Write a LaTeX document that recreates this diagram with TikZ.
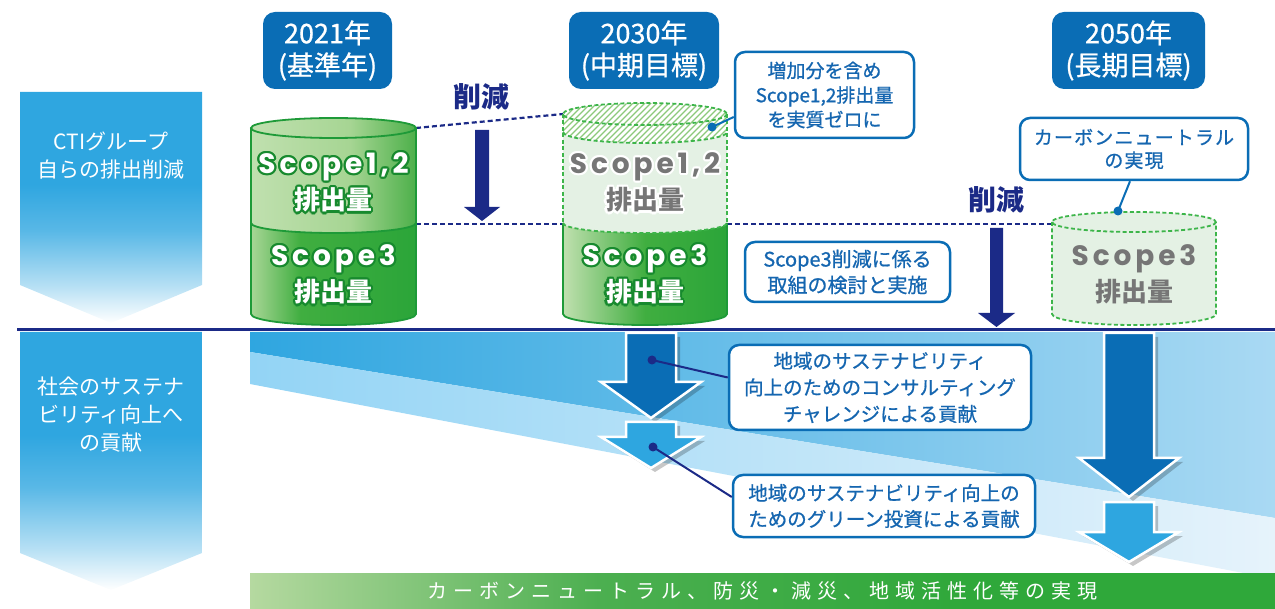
\documentclass[tikz,border=0pt]{standalone}
\usepackage{fontspec}
\setmainfont{Noto Sans CJK JP}
\newfontfamily\popf[LetterSpace=14]{Poppins}
\newfontfamily\jpmed[FakeBold=0.8]{Noto Sans CJK JP}
\newfontfamily\jpwide[LetterSpace=30]{Noto Sans CJK JP}
\newfontfamily\jpsp[LetterSpace=6,FakeBold=0.8]{Noto Sans CJK JP}
\usetikzlibrary{calc}
\definecolor{yearblue}{HTML}{0A6DB5}
\definecolor{navy}{HTML}{1B2A87}
\definecolor{cblue}{HTML}{2FA6E0}
\definecolor{ctext}{HTML}{1566B0}
\definecolor{cylgreen}{HTML}{1E9A38}
\definecolor{dashgreen}{HTML}{3DB54A}
\definecolor{halogreen}{HTML}{178A2E}
\definecolor{palegreen}{HTML}{E4F1E4}
\definecolor{hatchgreen}{HTML}{8CC97A}
\definecolor{graytext}{HTML}{767676}
\definecolor{lgA}{HTML}{C0E0AF}
\definecolor{lgB}{HTML}{A6D593}
\definecolor{lgC}{HTML}{4DB04A}
\definecolor{gA}{HTML}{A8D696}
\definecolor{gB}{HTML}{40AE40}
\definecolor{gC}{HTML}{2BA539}
\definecolor{bandA1}{HTML}{2FA6E0}
\definecolor{bandA2}{HTML}{A9D9F3}
\definecolor{bandB1}{HTML}{93D4F5}
\definecolor{bandB2}{HTML}{E6F3FB}
\definecolor{barA}{HTML}{B5D9A0}
\definecolor{barB}{HTML}{4CAF50}
\definecolor{barC}{HTML}{2FA83A}
\definecolor{arrowlight}{HTML}{2EA6E0}
\pgfdeclareverticalshading{chevshade}{100bp}{color(0bp)=(white); color(25bp)=(white); color(33bp)=(cblue!35!white); color(45bp)=(cblue!80!white); color(55bp)=(cblue); color(100bp)=(cblue)}
\pgfdeclarehorizontalshading{topseg}{100bp}{color(0bp)=(lgA); color(25bp)=(lgA); color(55bp)=(lgB); color(75bp)=(lgC); color(100bp)=(lgC)}
\pgfdeclarehorizontalshading{botseg}{100bp}{color(0bp)=(gA); color(25bp)=(gA); color(40bp)=(gB); color(75bp)=(gC); color(100bp)=(gC)}
\pgfdeclarehorizontalshading{botsegb}{100bp}{color(0bp)=(lgA); color(25bp)=(lgA); color(50bp)=(gB); color(75bp)=(gC); color(100bp)=(gC)}
\pgfdeclarehorizontalshading{barshade}{100bp}{color(0bp)=(barA); color(25bp)=(barA); color(42bp)=(barB); color(60bp)=(barC); color(100bp)=(barC)}
\newcommand\halotxt[6]{%
  \foreach \a in {0,30,...,330}{\node[#3,text=#4] at ($(#2)+(\a:2.2)$) {#6};}
  \node[#3,text=#5] (#1) at (#2) {#6};}
\begin{document}
\begin{tikzpicture}[x=1pt,y=-1pt,
  yearbox/.style={fill=yearblue, rounded corners=12pt, text=white, align=center,
    font=\jpmed\fontsize{27}{32}\selectfont, inner sep=0pt, minimum height=77pt},
  callout/.style={draw=yearblue, line width=2.5pt, fill=white, rounded corners=10pt,
    text=ctext, align=center, inner sep=0pt},
  chevtext/.style={text=white, align=center, font=\fontsize{21}{28}\selectfont},
  cuttext/.style={text=navy, font=\bfseries\fontsize{28}{30}\selectfont},
  cyllat/.style={font=\popf\bfseries\fontsize{28}{30}\selectfont, inner sep=0pt},
  cyljp/.style={font=\bfseries\fontsize{26}{30}\selectfont, inner sep=0pt},
  cdot/.style={circle, fill=#1, inner sep=0pt, minimum size=9pt},
  cylsolid/.style={draw=cylgreen, line width=1.8pt},
  cyldash/.style={draw=dashgreen, line width=1.8pt, dash pattern=on 4pt off 2.5pt},
  blockarrow/.style={draw=white, line width=2.5pt, line join=miter},
  arrowshadow/.style={fill=black, opacity=0.22},
  navydash/.style={draw=navy, line width=2.2pt, dash pattern=on 5pt off 3pt},
  leader/.style={line width=2pt}]
\useasboundingbox (0,0) rectangle (1275,609);
% ---------- lower bands ----------
\shade[left color=bandA1, right color=bandA2] (250,332) -- (1275,332) -- (1275,518) -- (250,352) -- cycle;
\shade[left color=bandB1, right color=bandB2] (250,352) -- (1275,518) -- (1275,579) -- (250,384) -- cycle;
% ---------- chevrons ----------
\shade[shading=chevshade] (20,92) -- (202,92) -- (202,285) -- (111,323) -- (20,285) -- cycle;
\shade[shading=chevshade] (20,332) -- (202,332) -- (202,553) -- (111,590) -- (20,553) -- cycle;
\node[chevtext] (ch1) at (111,156) {CTIグループ\\自らの排出削減};
\node[chevtext] (ch2) at (111,415) {社会のサステナ\\ビリティ向上へ\\の貢献};
% ---------- separator ----------
\coordinate (sepL) at (17,330);
\coordinate (sepR) at (1275,330);
\draw[navy, line width=3pt] (sepL) -- (sepR);
% ---------- year boxes ----------
\node[yearbox, minimum width=129pt] (y1) at (327.5,50.5) {2021年\\(基準年)};
\node[yearbox, minimum width=150pt] (y2) at (644,50.5) {2030年\\(中期目標)};
\node[yearbox, minimum width=153pt] (y3) at (1128.5,50.5) {2050年\\(長期目標)};
% ---------- dashed guide lines ----------
\coordinate (c21tr) at (416,128);
\coordinate (c30tl) at (563,114);
\coordinate (c21mr) at (416,224);
\coordinate (c30ml) at (563,224);
\coordinate (c30mr) at (727,224);
\coordinate (c50l) at (1052,224);
\draw[navydash] (c21tr) -- (c30tl);
\draw[navydash] (c21mr) -- (c30ml);
\draw[navydash] (c30mr) -- (c50l);
% ---------- cylinder 2021 ----------
\shade[shading=topseg] (251,128) -- (251,223) arc[start angle=180,end angle=0,x radius=82.5,y radius=10] -- (416,128) arc[start angle=0,end angle=180,x radius=82.5,y radius=10] -- cycle;
\shade[shading=topseg] (333.5,128) ellipse[x radius=82.5,y radius=10];
\shade[shading=botseg] (251,223) -- (251,314) arc[start angle=180,end angle=0,x radius=82.5,y radius=11] -- (416,223) arc[start angle=0,end angle=180,x radius=82.5,y radius=10] -- cycle;
\draw[cylsolid] (251,128) -- (251,314) arc[start angle=180,end angle=0,x radius=82.5,y radius=11] -- (416,128);
\draw[cylsolid] (333.5,128) ellipse[x radius=82.5,y radius=10];
\draw[cylsolid] (251,223) arc[start angle=180,end angle=0,x radius=82.5,y radius=10];
\halotxt{s1a}{333.5,167}{cyllat}{halogreen}{white}{Scope1,2}
\halotxt{s1b}{333.5,200}{cyljp}{halogreen}{white}{排出量}
\halotxt{s1c}{333.5,259}{cyllat}{halogreen}{white}{Scope3}
\halotxt{s1d}{333.5,292}{cyljp}{halogreen}{white}{排出量}
% ---------- cylinder 2030 ----------
\fill[palegreen] (563,114) -- (563,223) arc[start angle=180,end angle=0,x radius=82,y radius=10] -- (727,114) -- cycle;
\fill[white] (563,114) arc[start angle=180,end angle=360,x radius=82,y radius=11] -- (727,132) arc[start angle=0,end angle=180,x radius=82,y radius=11] -- cycle;
\begin{scope}
  \clip (563,114) arc[start angle=180,end angle=360,x radius=82,y radius=11] -- (727,132) arc[start angle=0,end angle=180,x radius=82,y radius=11] -- cycle;
  \foreach \i in {0,6,...,240} {\draw[hatchgreen, line width=1.3pt] (520+\i,150) -- ++(50,-50);}
\end{scope}
\shade[shading=botsegb] (563,223) -- (563,314) arc[start angle=180,end angle=0,x radius=82,y radius=11] -- (727,223) arc[start angle=0,end angle=180,x radius=82,y radius=10] -- cycle;
\draw[cylsolid] (563,223) -- (563,314) arc[start angle=180,end angle=0,x radius=82,y radius=11] -- (727,223);
\draw[cyldash] (645,114) ellipse[x radius=82,y radius=11];
\draw[cyldash] (563,132) arc[start angle=180,end angle=0,x radius=82,y radius=11];
\draw[cyldash] (563,114) -- (563,223);
\draw[cyldash] (727,114) -- (727,223);
\draw[cyldash] (563,223) arc[start angle=180,end angle=0,x radius=82,y radius=10];
\halotxt{s2a}{645,167}{cyllat}{white}{graytext}{Scope1,2}
\halotxt{s2b}{645,200}{cyljp}{white}{graytext}{排出量}
\halotxt{s2c}{645,259}{cyllat}{halogreen}{white}{Scope3}
\halotxt{s2d}{645,292}{cyljp}{halogreen}{white}{排出量}
% ---------- cylinder 2050 ----------
\fill[palegreen] (1052,222) -- (1052,314) arc[start angle=180,end angle=0,x radius=82,y radius=11] -- (1216,222) -- cycle;
\fill[palegreen] (1134,222) ellipse[x radius=82,y radius=10];
\draw[cyldash] (1134,222) ellipse[x radius=82,y radius=10];
\draw[cyldash] (1052,222) -- (1052,314) arc[start angle=180,end angle=0,x radius=82,y radius=11] -- (1216,222);
\halotxt{s3a}{1134,259}{cyllat}{palegreen}{graytext}{Scope3}
\halotxt{s3b}{1134,292}{cyljp}{palegreen}{graytext}{排出量}
% ---------- reduction arrows ----------
\node[cuttext] (cut1) at (481,97) {削減};
\node[cuttext] (cut2) at (996,200) {削減};
\fill[navy] (475,130) -- (489,130) -- (489,207) -- (500,207) -- (482,221) -- (464,207) -- (475,207) -- cycle;
\fill[navy] (990,228) -- (1003,228) -- (1003,313) -- (1015,313) -- (996.5,327) -- (978,313) -- (990,313) -- cycle;
% ---------- block arrows ----------
\fill[arrowshadow] (630,337) -- (680,337) -- (680,386) -- (705,386) -- (655,422) -- (605,386) -- (630,386) -- cycle;
\filldraw[blockarrow, fill=yearblue] (626,333) -- (676,333) -- (676,382) -- (701,382) -- (651,418) -- (601,382) -- (626,382) -- cycle;
\fill[arrowshadow] (630,426) -- (680,426) -- (680,441) -- (705,441) -- (655,472) -- (605,441) -- (630,441) -- cycle;
\filldraw[blockarrow, fill=arrowlight] (626,422) -- (676,422) -- (676,437) -- (701,437) -- (651,468) -- (601,437) -- (626,437) -- cycle;
\fill[arrowshadow] (1108,337) -- (1158,337) -- (1158,462) -- (1183,462) -- (1133,501) -- (1083,462) -- (1108,462) -- cycle;
\filldraw[blockarrow, fill=yearblue] (1104,333) -- (1154,333) -- (1154,458) -- (1179,458) -- (1129,497) -- (1079,458) -- (1104,458) -- cycle;
\fill[arrowshadow] (1108,506) -- (1158,506) -- (1158,536) -- (1183,536) -- (1133,566) -- (1083,536) -- (1108,536) -- cycle;
\filldraw[blockarrow, fill=arrowlight] (1104,502) -- (1154,502) -- (1154,532) -- (1179,532) -- (1129,562) -- (1079,532) -- (1104,532) -- cycle;
% ---------- callouts ----------
\node[callout, minimum width=179pt, minimum height=86pt, font=\jpmed\fontsize{19}{24.5}\selectfont] (co1) at (824.5,95) {増加分を含め\\Scope1,2排出量\\を実質ゼロに};
\node[callout, minimum width=228pt, minimum height=62pt, font=\jpsp\fontsize{19}{23}\selectfont] (co2) at (1134,149) {カーボンニュートラル\\の実現};
\node[callout, minimum width=205pt, minimum height=60pt, font=\jpmed\fontsize{20}{26}\selectfont] (co3) at (847.5,272) {Scope3削減に係る\\取組の検討と実施};
\node[callout, minimum width=302pt, minimum height=85pt, font=\jpmed\fontsize{19.5}{26.5}\selectfont] (co4) at (880,387.5) {地域のサステナビリティ\\向上のためのコンサルティング\\チャレンジによる貢献};
\node[callout, minimum width=302pt, minimum height=62pt, font=\jpmed\fontsize{19.5}{26}\selectfont] (co5) at (884,506) {地域のサステナビリティ向上の\\ためのグリーン投資による貢献};
% ---------- leaders ----------
\node[cdot=yearblue] (d1) at (712,127) {};
\node[cdot=yearblue] (d2) at (1118,211) {};
\node[cdot=navy] (d3) at (652,360) {};
\node[cdot=navy] (d4) at (653,447) {};
\draw[leader, yearblue] (d1.center) -- ($(co1.west)+(0,22)$);
\draw[leader, yearblue] (d2.center) -- ($(co2.south)+(-4,0)$);
\draw[leader, navy] (d3.center) -- ($(co4.west)+(0,-10)$);
\draw[leader, navy] (d4.center) -- ($(co5.west)+(0,-9)$);
% ---------- bottom bar ----------
\shade[shading=barshade] (250,573) rectangle (1275,609);
\node[text=white, font=\jpwide\fontsize{20}{24}\selectfont] (bar) at (762,591) {カーボンニュートラル、防災・減災、地域活性化等の実現};
\end{tikzpicture}
\end{document}
